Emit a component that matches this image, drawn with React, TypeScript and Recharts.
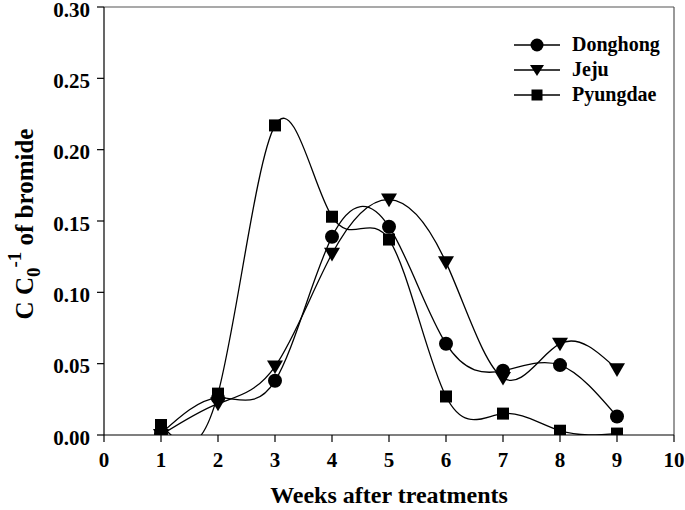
import React from "react";
import {
  LineChart,
  Line,
  XAxis,
  YAxis,
  Legend,
  ReferenceLine,
} from "recharts";

const weeks = [1, 2, 3, 4, 5, 6, 7, 8, 9];
const donghong = [0.001, 0.026, 0.038, 0.139, 0.146, 0.064, 0.045, 0.049, 0.013];
const jeju = [0.0, 0.022, 0.048, 0.127, 0.165, 0.121, 0.04, 0.064, 0.046];
const pyungdae = [0.007, 0.029, 0.217, 0.153, 0.137, 0.027, 0.015, 0.003, 0.001];
const xTicks = [0, 1, 2, 3, 4, 5, 6, 7, 8, 9, 10];
const yTicks = [0, 0.05, 0.1, 0.15, 0.2, 0.25, 0.3];

const data = weeks.map((w, i) => ({
  week: w,
  donghong: donghong[i],
  jeju: jeju[i],
  pyungdae: pyungdae[i],
}));

const FONT = "'Liberation Serif', 'Times New Roman', serif";

const Circle = (props: any) => {
  const { cx, cy } = props;
  if (cx == null || cy == null) return null;
  return <circle cx={cx} cy={cy} r={7} fill="#000" />;
};

const Tri = (props: any) => {
  const { cx, cy } = props;
  if (cx == null || cy == null) return null;
  const s = 8;
  return (
    <polygon
      points={`${cx - s},${cy - s * 0.75} ${cx + s},${cy - s * 0.75} ${cx},${cy + s * 0.95}`}
      fill="#000"
    />
  );
};

const Square = (props: any) => {
  const { cx, cy } = props;
  if (cx == null || cy == null) return null;
  return <rect x={cx - 6} y={cy - 6} width={12} height={12} fill="#000" />;
};

const legendItems = [
  { name: "Donghong", shape: "circle" },
  { name: "Jeju", shape: "tri" },
  { name: "Pyungdae", shape: "square" },
];

const LegendContent = () => (
  <div style={{ fontFamily: FONT, fontWeight: "bold", fontSize: 20, color: "#000" }}>
    {legendItems.map((it) => (
      <div key={it.name} style={{ display: "flex", alignItems: "center", height: 25 }}>
        <svg width={50} height={20} style={{ marginRight: 8 }}>
          <line x1={0} y1={10} x2={46} y2={10} stroke="#000" strokeWidth={1.3} />
          {it.shape === "circle" && <circle cx={23} cy={10} r={6.5} fill="#000" />}
          {it.shape === "tri" && <polygon points="16,5 30,5 23,16" fill="#000" />}
          {it.shape === "square" && <rect x={17.5} y={4.5} width={11} height={11} fill="#000" />}
        </svg>
        <span>{it.name}</span>
      </div>
    ))}
  </div>
);

const YLabel = () => (
  <text
    transform="translate(33, 224) rotate(-90)"
    textAnchor="middle"
    fontFamily={FONT}
    fontWeight="bold"
    fontSize={25}
    fill="#000"
  >
    <tspan>C C</tspan>
    <tspan fontSize={19} dy={7}>0</tspan>
    <tspan fontSize={19} dy={-19}>-1</tspan>
    <tspan dy={12}> of bromide</tspan>
  </text>
);

const tickStyle = { fontFamily: FONT, fontWeight: "bold", fontSize: 21, fill: "#000" };

const YTick = (props: any) => {
  const { x, y, payload } = props;
  return (
    <text x={x} y={y + 5} textAnchor="end" dominantBaseline="middle" {...tickStyle}>
      {Number(payload.value).toFixed(2)}
    </text>
  );
};

export default function App() {
  return (
    <div style={{ position: "absolute", left: 0, top: 0, background: "#fff" }}>
      <LineChart
        width={685}
        height={510}
        data={data}
        margin={{ top: 7, right: 11, bottom: 0, left: 0 }}
      >
        <XAxis
          dataKey="week"
          type="number"
          domain={[0, 10]}
          ticks={xTicks}
          interval={0}
          height={75}
          tick={tickStyle}
          tickSize={7}
          tickMargin={10}
          axisLine={{ stroke: "#000", strokeWidth: 1.2 }}
          tickLine={{ stroke: "#000", strokeWidth: 1.2 }}
          label={{
            value: "Weeks after treatments",
            position: "insideBottom",
            offset: 7,
            style: { fontFamily: FONT, fontWeight: "bold", fontSize: 24, fill: "#000" },
          }}
        />
        <YAxis
          type="number"
          domain={[0, 0.3]}
          allowDataOverflow
          ticks={yTicks}
          interval={0}
          width={104}
          tick={<YTick />}
          tickSize={7}
          tickMargin={7}
          axisLine={{ stroke: "#000", strokeWidth: 1.2 }}
          tickLine={{ stroke: "#000", strokeWidth: 1.2 }}
          label={{ content: () => <YLabel /> }}
        />
        <ReferenceLine y={0.3} stroke="#555" strokeWidth={1.2} />
        <ReferenceLine x={10} stroke="#555" strokeWidth={1.2} />
        <Line
          type="natural"
          dataKey="donghong"
          stroke="#000"
          strokeWidth={1.3}
          dot={<Circle />}
          activeDot={false}
          isAnimationActive={false}
        />
        <Line
          type="natural"
          dataKey="jeju"
          stroke="#000"
          strokeWidth={1.3}
          dot={<Tri />}
          activeDot={false}
          isAnimationActive={false}
        />
        <Line
          type="natural"
          dataKey="pyungdae"
          stroke="#000"
          strokeWidth={1.3}
          dot={<Square />}
          activeDot={false}
          isAnimationActive={false}
        />
        <Legend
          content={<LegendContent />}
          layout="horizontal"
          verticalAlign="middle"
          align="center"
          wrapperStyle={{ top: 32, left: 514, width: 165 }}
        />
      </LineChart>
    </div>
  );
}
